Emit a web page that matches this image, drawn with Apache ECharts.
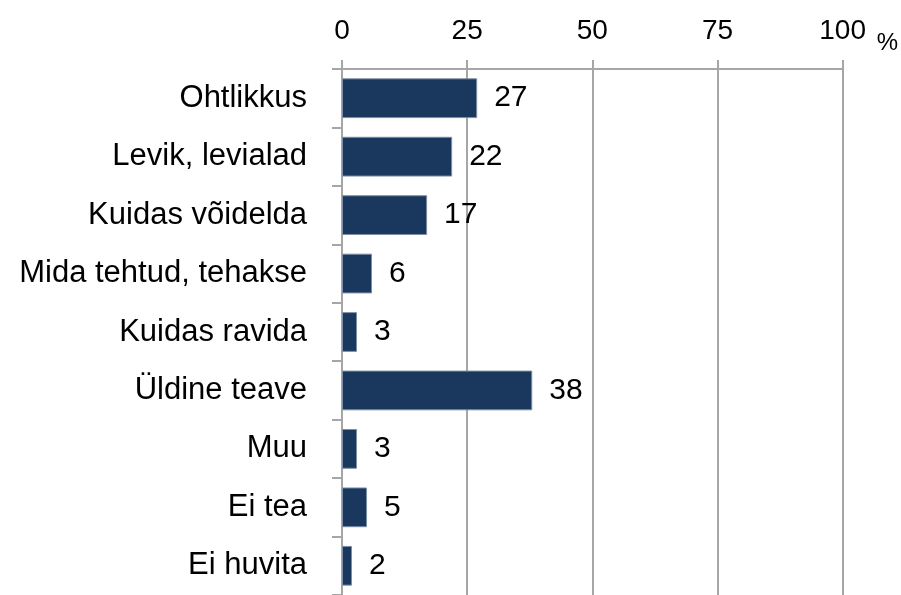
<!DOCTYPE html>
<html>
<head>
<meta charset="utf-8">
<script src="https://cdn.jsdelivr.net/npm/echarts@6/dist/echarts.min.js"></script>
<style>
	html, body { margin: 0; padding: 0; background: #fff; }
	#chart { width: 901px; height: 595px; }
</style>
</head>
<body>
<div id="chart"></div>
<script>
var categories = ['Ohtlikkus', 'Levik, levialad', 'Kuidas võidelda', 'Mida tehtud, tehakse',
	'Kuidas ravida', 'Üldine teave', 'Muu', 'Ei tea', 'Ei huvita'];
var values = [27, 22, 17, 6, 3, 38, 3, 5, 2];
var xTicks = [0, 25, 50, 75, 100];

function drawChart(divId) {
	var chart = echarts.init(document.getElementById(divId));
	var font = 'Liberation Sans, Arial, sans-serif';

	chart.setOption({
		animation : false,
		grid : {
			left : 342,
			right : 57,
			top : 69,
			height : 526
		},
		xAxis : {
			type : 'value',
			position : 'top',
			min : xTicks[0],
			max : xTicks[xTicks.length - 1],
			interval : 25,
			name : '%',
			nameLocation : 'end',
			nameGap : 34,
			nameTextStyle : {
				fontFamily : font,
				fontSize : 24,
				color : '#000',
				verticalAlign : 'bottom',
				padding : [0, 0, 14, 0]
			},
			axisLine : { show : true, lineStyle : { color : '#a6a6a6', width : 2 } },
			axisTick : { show : true, length : 9, lineStyle : { color : '#a6a6a6', width : 2 } },
			splitLine : { show : true, lineStyle : { color : '#a6a6a6', width : 2 } },
			axisLabel : {
				margin : 24,
				fontFamily : font,
				fontSize : 28,
				color : '#000'
			}
		},
		yAxis : {
			type : 'category',
			inverse : true,
			data : categories,
			axisLine : { show : true, lineStyle : { color : '#a6a6a6', width : 2 } },
			axisTick : { show : true, length : 10, lineStyle : { color : '#a6a6a6', width : 2 } },
			axisLabel : {
				margin : 35,
				padding : [6, 0, 0, 0],
				fontFamily : font,
				fontSize : 31,
				color : '#000'
			}
		},
		series : [ {
			type : 'bar',
			data : values,
			barCategoryGap : '32%',
			itemStyle : {
				color : '#1a375e',
				borderColor : '#7d8ea6',
				borderWidth : 1
			},
			label : {
				show : true,
				position : 'right',
				distance : 17,
				padding : [6, 0, 0, 0],
				fontFamily : font,
				fontSize : 30,
				color : '#000'
			}
		} ]
	});

	return chart;
}

drawChart('chart');
</script>
</body>
</html>
